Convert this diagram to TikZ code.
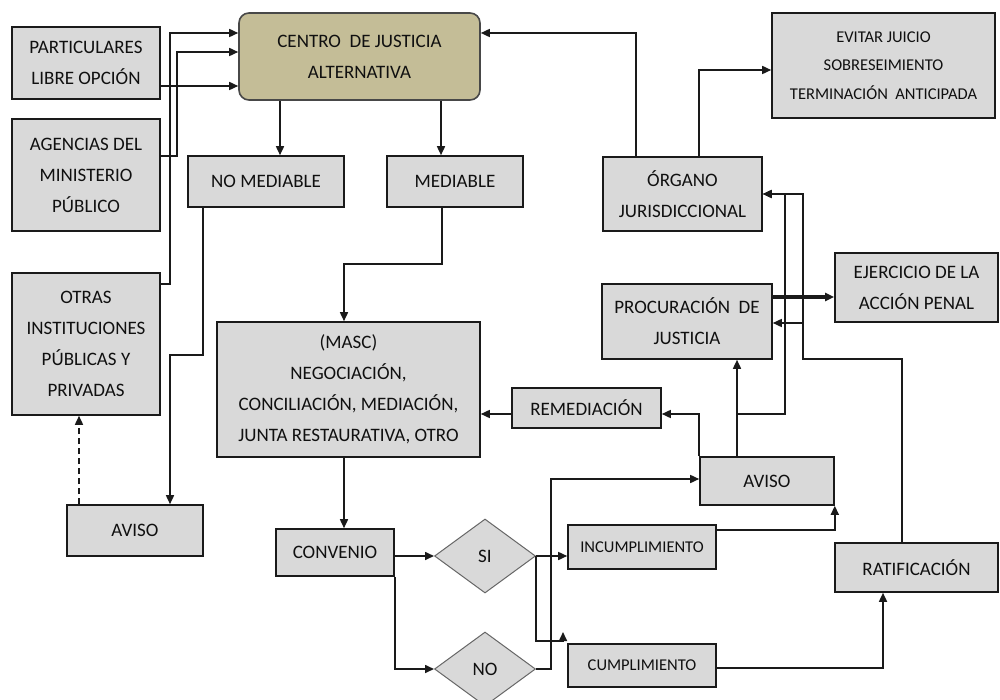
\documentclass[tikz,border=0pt]{standalone}
\usepackage{fontspec}
\setmainfont{Carlito}
\usetikzlibrary{shapes.geometric,arrows.meta}
\definecolor{boxfill}{HTML}{D9D9D9}
\definecolor{tanfill}{HTML}{C4BD97}
\definecolor{ln}{HTML}{1A1A1A}
\definecolor{txt}{HTML}{101010}
\begin{document}
\begin{tikzpicture}[x=1pt,y=-1pt,
  box/.style={draw=ln, line width=1.6pt, fill=boxfill, inner sep=0pt, align=center,
    font=\fontsize{19}{31}\selectfont, text=txt},
  small/.style={font=\fontsize{16.5}{28.5}\selectfont},
  dia/.style={diamond, draw=gray!80!black, line width=1pt, fill=boxfill, inner sep=0pt,
    minimum width=101pt, minimum height=74pt, font=\fontsize{19}{31}\selectfont, text=txt},
  arr/.style={draw=ln, line width=1.6pt, -{Triangle[length=9pt,width=8pt]}}]
\useasboundingbox[fill=white] (0,0) rectangle (1000,700);

% left column
\node[box, minimum width=148pt, minimum height=72pt] (part) at (86,63) {PARTICULARES\\LIBRE OPCIÓN};
\node[box, minimum width=148pt, minimum height=112pt] (agen) at (86,175) {AGENCIAS DEL\\MINISTERIO\\PÚBLICO};
\node[box, minimum width=148pt, minimum height=142pt] (otras) at (86,344) {OTRAS\\INSTITUCIONES\\PÚBLICAS Y\\PRIVADAS};
\node[box, minimum width=136pt, minimum height=51pt] (avisoL) at (135,530.5) {AVISO};

% centre
\node[box, draw=ln!80, fill=tanfill, rounded corners=10pt, minimum width=241pt, minimum height=87pt] (centro) at (359.5,56.5) {CENTRO~ DE JUSTICIA\\ALTERNATIVA};
\node[box, minimum width=156pt, minimum height=51pt] (nomed) at (266,181.5) {NO MEDIABLE};
\node[box, minimum width=136pt, minimum height=51pt] (med) at (455,181.5) {MEDIABLE};
\node[box, minimum width=263pt, minimum height=135pt] (masc) at (348.5,389.5) {(MASC)\\NEGOCIACIÓN,\\CONCILIACIÓN, MEDIACIÓN,\\JUNTA RESTAURATIVA, OTRO};
\node[box, minimum width=118pt, minimum height=47pt] (conv) at (335,552.5) {CONVENIO};
\node[dia] (si) at (485,556) {SI};
\node[dia] (no) at (485,669) {NO};

% right side
\node[box, minimum width=159pt, minimum height=74pt] (organo) at (682.5,194) {ÓRGANO\\JURISDICCIONAL};
\node[box, small, minimum width=223pt, minimum height=105pt] (evitar) at (883.5,65.5) {EVITAR JUICIO\\SOBRESEIMIENTO\\TERMINACIÓN~ ANTICIPADA};
\node[box, minimum width=163pt, minimum height=69pt] (ejer) at (916.5,287.5) {EJERCICIO DE LA\\ACCIÓN PENAL};
\node[box, minimum width=170pt, minimum height=75pt] (proc) at (687,321.5) {PROCURACIÓN~ DE\\JUSTICIA};
\node[box, minimum width=149pt, minimum height=40pt] (remed) at (586.5,408) {REMEDIACIÓN};
\node[box, minimum width=134pt, minimum height=48pt] (avisoR) at (767,481) {AVISO};
\node[box, small, minimum width=148pt, minimum height=44pt] (incum) at (642,547) {INCUMPLIMIENTO};
\node[box, small, minimum width=148pt, minimum height=43pt] (cumpl) at (642,665.5) {CUMPLIMIENTO};
\node[box, minimum width=163pt, minimum height=49pt] (ratif) at (916.5,567.5) {RATIFICACIÓN};

% connectors into centro
\draw[arr] (part.east |- 0,86) -- (centro.west |- 0,86);
\draw[arr] (otras.east |- 0,284) -| (170,33) -- (centro.west |- 0,33);
\draw[arr] (agen.east |- 0,156) -| (177,52) -- (centro.west |- 0,52);
\draw[arr] (organo.north -| 636,0) |- (centro.east |- 0,33);

% centro down
\draw[arr] (centro.south -| 280,0) -- (nomed.north -| 280,0);
\draw[arr] (centro.south -| 441,0) -- (med.north -| 441,0);
\draw[arr] (nomed.south -| 203,0) |- (170,355) -- (avisoL.north -| 170,0);
\draw[arr, dashed, dash pattern=on 6pt off 4pt] (avisoL.north -| 79,0) -- (otras.south -| 79,0);
\draw[arr] (med.south -| 442,0) |- (344,264) -- (masc.north -| 344,0);
\draw[arr] (masc.south -| 344,0) -- (conv.north -| 344,0);

% convenio branches
\draw[arr] (conv.east |- 0,556) -- (si.west);
\draw[arr] (conv.south east) |- (no.west);
\draw[arr] (si.east) -- (incum.west |- si.east);
\draw[arr] (si.east) |- (563,641) -- (563,632);
\draw[arr] (no.east) -| (551,479) -- (avisoR.west |- 0,479);
\draw[arr] (incum.east |- 0,530) -| (avisoR.south east);
\draw[arr] (cumpl.east |- 0,668) -| (ratif.south -| 883,0);

% aviso right
\coordinate (j1) at (737,414);
\draw[arr] (avisoR.north west) |- (remed.east |- 0,414);
\draw[arr] (remed.west |- 0,414) -- (masc.east |- 0,414);
\draw[arr] (avisoR.north -| 737,0) -- (proc.south -| 737,0);
\draw[arr] (j1) -| (785,194) -- (organo.east |- 0,194);

% ratificacion up
\draw[arr] (ratif.north -| 902,0) |- (803,359) |- (organo.east |- 0,194);
\draw[arr] (803,323) -- (proc.east |- 0,323);

% procuracion / organo out
\draw[arr, line width=3pt] (proc.east |- 0,297) -- (ejer.west |- 0,297);
\draw[arr] (organo.north -| 699,0) |- (evitar.west |- 0,70);
\end{tikzpicture}
\end{document}
